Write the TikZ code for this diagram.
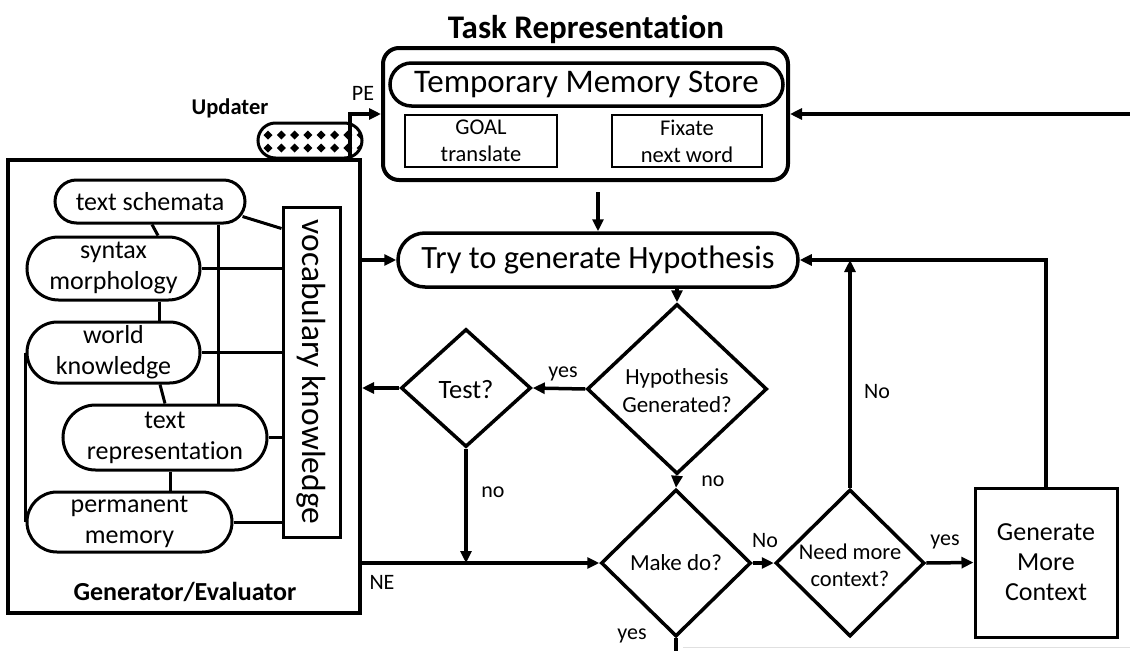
\documentclass[tikz,border=0pt]{standalone}
\usepackage{fontspec}
\setmainfont{Carlito}[Ligatures=NoCommon]
\usetikzlibrary{shapes.geometric,arrows.meta,calc}
\pgfdeclarelayer{bg}\pgfsetlayers{bg,main}
\tikzset{
  pill/.style={rectangle, draw, line width=3, fill=white, rounded corners=#1, inner sep=0, align=center, font=\fontsize{26}{31}\selectfont},
  pill/.default=20,
  arr/.style={-{Triangle[length=12,width=11]}, line width=3.5},
  conn/.style={line width=3},
  lbl/.style={font=\fontsize{22}{26}\selectfont, inner sep=0},
  dia/.style={diamond, draw, line width=3.5, inner sep=0, fill=white},
  diat/.style={inner sep=0, align=center, font=\fontsize{23}{28}\selectfont},
  smallbox/.style={rectangle, draw, line width=2, minimum width=152, minimum height=52, inner sep=0, align=center, font=\fontsize{22.5}{27}\selectfont},
}
\begin{document}
\begin{tikzpicture}[x=1pt,y=-1pt]
\useasboundingbox (0,0) rectangle (1130,651);

% ---------- Task representation ----------
\node[font=\bfseries\fontsize{33}{39}\selectfont, inner sep=0] (title) at (586,30) {Task Representation};
\node[draw, line width=4, rounded corners=16, minimum width=405, minimum height=132, inner sep=0] (task) at (585.5,114) {};
\node[pill=21.5, line width=3.5, minimum width=393, minimum height=43, font=\fontsize{33}{39}\selectfont] (tms) at (586.5,84.5) {Temporary Memory Store};
\node[smallbox] (goal) at (481,141) {GOAL\\translate};
\node[smallbox, minimum width=150] (fix) at (687,141) {Fixate\\next word};

% ---------- Generator / Evaluator ----------
\node[draw, line width=4, minimum width=352, minimum height=453, inner sep=0] (gen) at (184,386.5) {};
\node[font=\bfseries\fontsize{26}{31}\selectfont, inner sep=0] (gentitle) at (185,592) {Generator/Evaluator};

% Updater
\node[font=\bfseries\fontsize{22.5}{27}\selectfont, inner sep=0] (updl) at (230,108) {Updater};
\node[fill=white, minimum width=104, minimum height=35, inner sep=0, outer sep=0] (upd) at (310,140.5) {};
\begin{scope}
\clip[rounded corners=17.5] (upd.north west) rectangle (upd.south east);
\foreach \i in {0,...,7}{\foreach \j in {0,1}{
  \fill ($(upd.north west)+(10+13.3*\i,12+13*\j)$) ++(-4.5,0) -- ++(4.5,-4.5) -- ++(4.5,4.5) -- ++(-4.5,4.5) -- cycle;
}}
\end{scope}
\draw[line width=3, rounded corners=17.5] (upd.north west) rectangle (upd.south east);
\node[lbl] (pel) at (363,93) {PE};

% inner knowledge pills
\node[pill=21.5, minimum width=190, minimum height=43] (ts) at (150,201.5) {text schemata};
\node[pill=31.5, minimum width=173, minimum height=63] (sm) at (113.5,268.5) {syntax\\morphology};
\node[pill=30.5, minimum width=173, minimum height=61] (wk) at (113.5,352.5) {world\\knowledge};
\node[pill=32.5, minimum width=204, minimum height=65] (tr) at (165,437.5) {text\\representation};
\node[pill=30, minimum width=205, minimum height=60] (pm) at (129.5,522) {permanent\\memory};
\node[draw, line width=3, minimum width=57, minimum height=330, inner sep=0] (voc) at (311.5,372) {};
\node[rotate=-90, inner sep=0, font=\fontsize{33.5}{40}\selectfont] (voct) at (voc.center) {vocabulary knowledge};

\begin{pgfonlayer}{bg}
\draw[conn] (wk.west) -- (pm.west);
\draw[conn] ([xshift=68]ts.south) -- ([xshift=68]ts.south |- tr.north);
\end{pgfonlayer}
\draw[conn] ([yshift=-15]ts.east) ++(-4,0) -- ([yshift=-23]voc.north west);
\draw[conn] ([xshift=2]ts.south) -- ([xshift=44.5]sm.north);
\draw[conn] (sm.east) -- (voc.west |- sm.east);
\draw[conn] ([xshift=45.5]sm.south) -- ([xshift=45.5]wk.north);
\draw[conn] (wk.east) -- (voc.west |- wk.east);
\draw[conn] ([xshift=46.5]wk.south) -- (tr.north);
\draw[conn] (tr.east) -- (voc.west |- tr.east);
\draw[conn] ([xshift=5]tr.south) -- ([xshift=40.5]pm.north);
\draw[conn] (pm.east) -- (voc.west |- pm.east);

% ---------- flow ----------
\node[pill=27, line width=3.5, minimum width=400, minimum height=54, font=\fontsize{32.5}{38}\selectfont] (try) at (598,260) {Try to generate Hypothesis};

\node[dia, minimum width=180, minimum height=170] (hyp) at (677,389) {};
\node[diat] (hypt) at (677,391) {Hypothesis\\Generated?};
\node[dia, minimum width=130, minimum height=118] (test) at (466,388) {};
\node[diat, font=\fontsize{26.5}{31}\selectfont] (testt) at (466,390) {Test?};
\node[dia, minimum width=150, minimum height=147] (make) at (676,563) {};
\node[diat] (maket) at (676,563) {Make do?};
\node[dia, minimum width=149, minimum height=147] (need) at (850,563) {};
\node[diat, font=\fontsize{22.5}{27}\selectfont] (needt) at (850,565) {Need more\\context?};
\node[draw, line width=3, minimum width=142, minimum height=149, inner sep=0, align=center, font=\fontsize{26}{30}\selectfont] (gm) at (1046,562.5) {Generate\\More\\Context};

\coordinate (rin) at (1130,114);
\coordinate (pe) at (350,156);
\coordinate (bot) at (676,651);
\coordinate (gl1) at (683,647);
\coordinate (gl2) at (1130,647);

\draw[arr] (rin) -- (task.east);
\draw[arr] (pe) |- (task.west);
\draw[arr, shorten <=10] (try.north |- task.south) -- (try.north);
\draw[arr] (gen.east |- try.west) -- (try.west);
\draw[arr] (try.south -| hyp.north) -- (hyp.north);
\draw[arr] (hyp.west) -- (test.east);
\draw[arr] (test.west) -- (gen.east |- test.west);
\draw[arr] (test.south) -- (test.south |- make.west);
\draw[arr] (gen.east |- make.west) -- (make.west);
\draw[arr] (hyp.south) -- (make.north);
\draw[arr] (make.east) -- (need.west);
\draw[arr] (need.east) -- (gm.west);
\draw[arr] (need.north) -- (need.north |- try.east);
\draw[arr] (gm.north) |- (try.east);
\draw[line width=3.5] (make.south) -- (bot);
\draw[line width=1, black!12] (gl1) -- (gl2);

% labels
\node[lbl] (l1) at (563,374) {yes};
\node[lbl] (l2) at (493,492) {no};
\node[lbl] (l3) at (382,582) {NE};
\node[lbl] (l4) at (713,481) {no};
\node[lbl] (l5) at (765,541) {No};
\node[lbl] (l6) at (945,542) {yes};
\node[lbl] (l7) at (877,392) {No};
\node[lbl] (l8) at (632,636) {yes};
\end{tikzpicture}
\end{document}
